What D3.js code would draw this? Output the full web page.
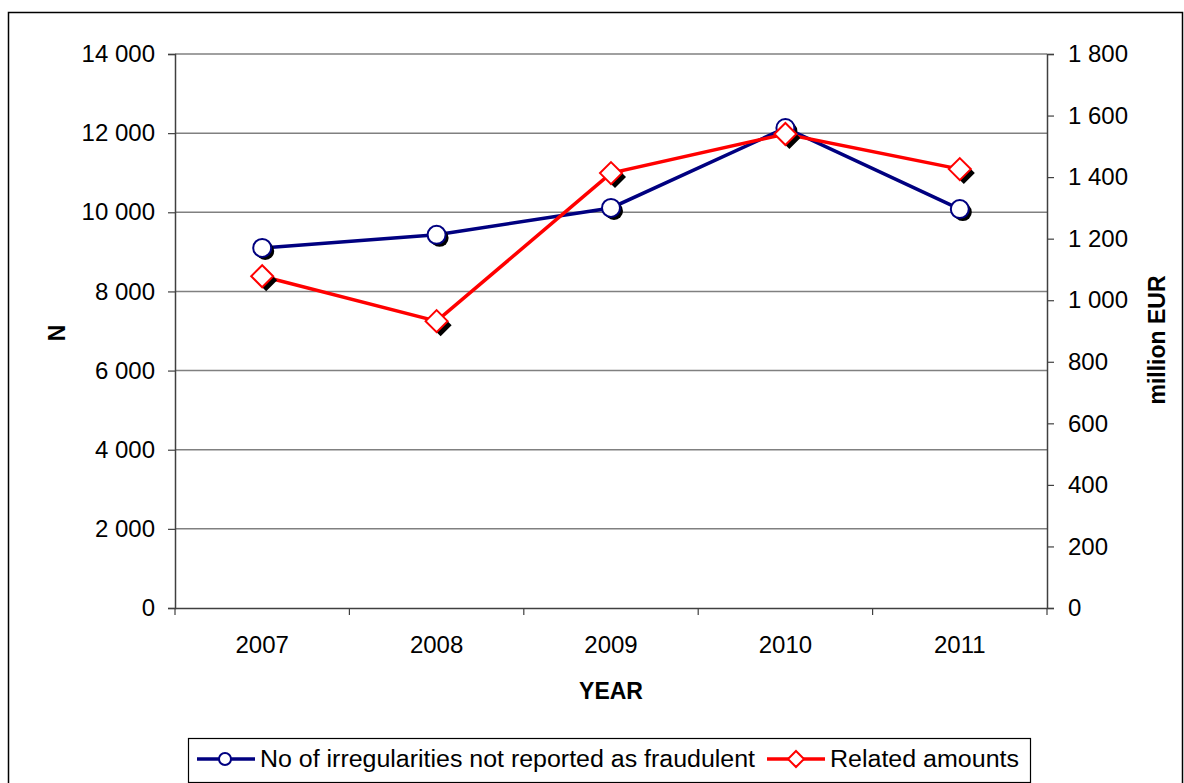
<!DOCTYPE html>
<html><head><meta charset="utf-8">
<script src="https://cdn.jsdelivr.net/npm/d3@7"></script>
<style>body{margin:0;background:#fff}svg{display:block;font-family:"Liberation Sans",Arial,sans-serif}</style>
</head><body><svg id="c" width="1184" height="783"></svg>
<script>
const years = ["2007","2008","2009","2010","2011"];
const irregularities = [9100, 9430, 10110, 12130, 10080];
const amounts = [1078, 932, 1413, 1540, 1426];
const leftTicks = [0,2000,4000,6000,8000,10000,12000,14000];
const rightTicks = [0,200,400,600,800,1000,1200,1400,1600,1800];
const seriesNames = ["No of irregularities not reported as fraudulent","Related amounts"];

const svg = d3.select("#c");
const L=175, R=1047, T=54, B=608;
const FF = "Liberation Sans, Arial, sans-serif";
const fmt = v => d3.format(",")(v).replace(/,/g," ");

svg.append("rect").attr("x",8.5).attr("y",12.5).attr("width",1174).attr("height",800).attr("fill","none").attr("stroke","#000").attr("stroke-width",1.5);

const x = d3.scaleBand().domain(years).range([L,R]);
const yL = d3.scaleLinear().domain([0,14000]).range([B,T]);
const yR = d3.scaleLinear().domain([0,1800]).range([B,T]);

svg.append("g").selectAll("line").data(leftTicks.filter(d=>d>0)).join("line")
  .attr("x1",L).attr("x2",R).attr("y1",d=>yL(d)).attr("y2",d=>yL(d))
  .attr("stroke","#808080").attr("stroke-width",1.5);

const gL = svg.append("g").attr("transform",`translate(${L},0)`)
  .call(d3.axisLeft(yL).tickValues(leftTicks).tickFormat(fmt).tickSize(7).tickPadding(13));
const gR = svg.append("g").attr("transform",`translate(${R},0)`)
  .call(d3.axisRight(yR).tickValues(rightTicks).tickFormat(fmt).tickSize(7).tickPadding(14));
const gX = svg.append("g").attr("transform",`translate(0,${B})`)
  .call(d3.axisBottom(x).tickSize(0).tickPadding(28));
svg.append("g").selectAll("line").data(years.slice(1)).join("line")
  .attr("x1",d=>x(d)).attr("x2",d=>x(d)).attr("y1",B).attr("y2",B+7).attr("stroke","#404040").attr("stroke-width",1.2);
[L,R].forEach(px=>svg.append("line").attr("x1",px).attr("x2",px).attr("y1",B).attr("y2",B+7).attr("stroke","#404040").attr("stroke-width",1.2));

[gL,gR,gX].forEach(g=>{
  g.attr("font-family",FF).attr("font-size",24);
  g.selectAll("path.domain").attr("stroke","#404040").attr("stroke-width",1.5);
  g.selectAll(".tick line").attr("stroke","#404040").attr("stroke-width",1.2);
  g.selectAll("text").attr("fill","#000");
});
gX.select("path.domain").attr("d",`M${L},0.5H${R}`);

svg.append("text").attr("x",611).attr("y",699).attr("text-anchor","middle").attr("font-size",23).attr("font-weight","bold").text("YEAR");
svg.append("text").attr("transform","translate(65,333) rotate(-90)").attr("text-anchor","middle").attr("font-size",23).attr("font-weight","bold").text("N");
svg.append("text").attr("transform","translate(1165,340) rotate(-90)").attr("text-anchor","middle").attr("font-size",23).attr("font-weight","bold").text("million EUR");

const cx = d => x(d)+x.bandwidth()/2;
const lineL = d3.line().x((d,i)=>cx(years[i])).y(d=>yL(d));
const lineR = d3.line().x((d,i)=>cx(years[i])).y(d=>yR(d));

const blue="#000080", red="#ff0000";
const diamond = (s)=>`M0,${-s}L${s},0L0,${s}L${-s},0Z`;

svg.append("path").attr("d",lineL(irregularities)).attr("fill","none").attr("stroke",blue).attr("stroke-width",3.5);
const gb = svg.append("g");
irregularities.forEach((v,i)=>{
  gb.append("circle").attr("cx",cx(years[i])+3).attr("cy",yL(v)+3).attr("r",9).attr("fill","#000");
  gb.append("circle").attr("cx",cx(years[i])).attr("cy",yL(v)).attr("r",9).attr("fill","#fff").attr("stroke",blue).attr("stroke-width",2);
});
svg.append("path").attr("d",lineR(amounts)).attr("fill","none").attr("stroke",red).attr("stroke-width",3.5);
const gr = svg.append("g");
amounts.forEach((v,i)=>{
  gr.append("path").attr("d",diamond(11)).attr("transform",`translate(${cx(years[i])+4},${yR(v)+4})`).attr("fill","#000");
  gr.append("path").attr("d",diamond(11)).attr("transform",`translate(${cx(years[i])},${yR(v)})`).attr("fill","#fff").attr("stroke",red).attr("stroke-width",2);
});

const lg = svg.append("g");
lg.append("rect").attr("x",188.5).attr("y",738.5).attr("width",842).attr("height",44).attr("fill","#fff").attr("stroke","#000").attr("stroke-width",1.2);
const ly = 759;
lg.append("line").attr("x1",197).attr("x2",255).attr("y1",ly).attr("y2",ly).attr("stroke",blue).attr("stroke-width",3.5);
lg.append("circle").attr("cx",225).attr("cy",ly).attr("r",6).attr("fill","#fff").attr("stroke",blue).attr("stroke-width",2);
lg.append("text").attr("x",260).attr("y",ly+8).attr("font-size",23).attr("textLength",495).attr("lengthAdjust","spacingAndGlyphs").text(seriesNames[0]);
lg.append("line").attr("x1",767).attr("x2",825).attr("y1",ly).attr("y2",ly).attr("stroke",red).attr("stroke-width",3.5);
lg.append("path").attr("d",diamond(8)).attr("transform",`translate(796,${ly})`).attr("fill","#fff").attr("stroke",red).attr("stroke-width",2);
lg.append("text").attr("x",830).attr("y",ly+8).attr("font-size",23).attr("textLength",189).attr("lengthAdjust","spacingAndGlyphs").text(seriesNames[1]);
</script></body></html>
